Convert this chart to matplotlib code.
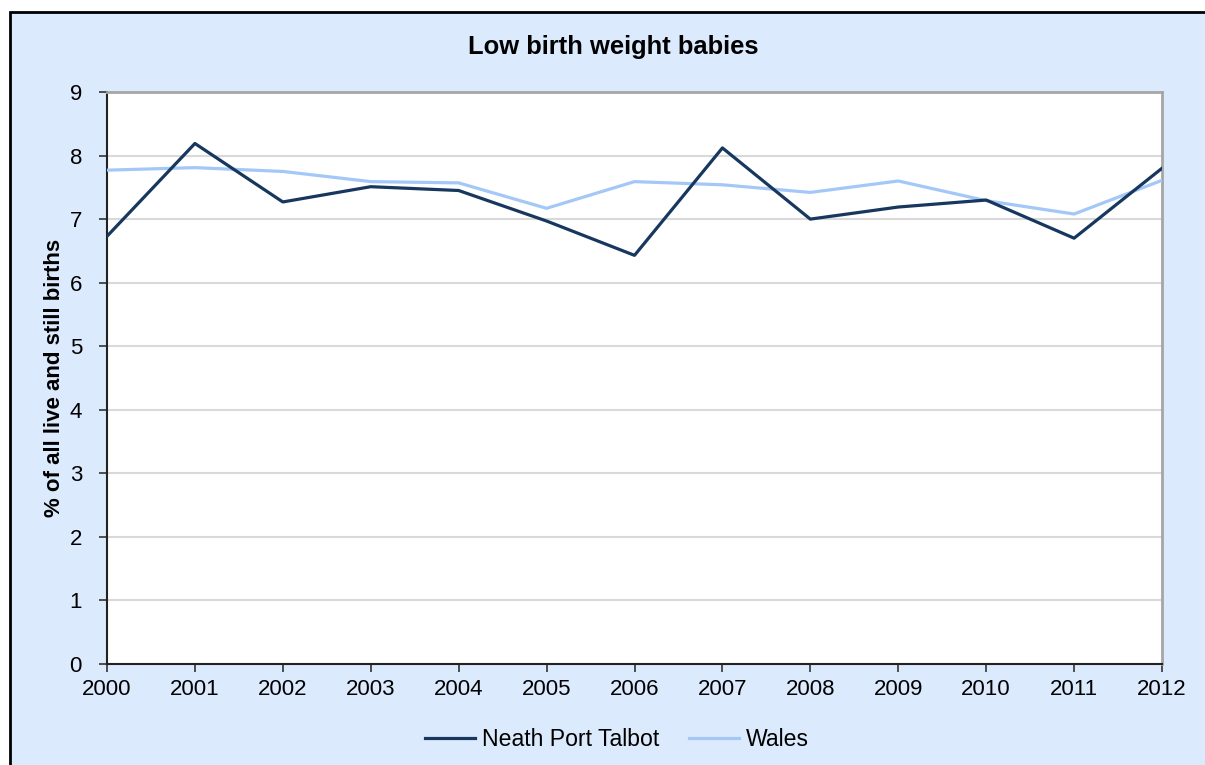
import matplotlib
matplotlib.use("Agg")
import matplotlib.pyplot as plt
from matplotlib.patches import Rectangle

plt.rcParams["font.family"] = ["Liberation Sans", "DejaVu Sans"]

# ── 数据 ──
years = list(range(2000, 2013))
npt = [6.73, 8.19, 7.27, 7.51, 7.45, 6.97, 6.43, 8.12, 7.00, 7.19, 7.30, 6.70, 7.80]
wales = [7.77, 7.81, 7.75, 7.59, 7.57, 7.17, 7.59, 7.54, 7.42, 7.60, 7.29, 7.08, 7.61]
y_ticks = list(range(0, 10))

W, H = 1205, 765
fig = plt.figure(figsize=(W / 100, H / 100), dpi=100)
fig.patch.set_facecolor("white")

# 图表区背景和边框
fig.patches.append(Rectangle((10 / W, -0.01), 1.0, (H - 12) / H + 0.01,
                             transform=fig.transFigure, facecolor="#DCEAFD",
                             edgecolor="black", linewidth=2, zorder=-1))

ax = fig.add_axes([107 / W, (H - 664) / H, (1162 - 107) / W, (664 - 92) / H])
ax.set_facecolor("white")

ax.plot(years, wales, color="#A3C8F7", linewidth=2.3, label="Wales", zorder=3)
ax.plot(years, npt, color="#17375E", linewidth=2.3, label="Neath Port Talbot", zorder=4)

ax.set_xlim(2000, 2012)
ax.set_ylim(0, 9)
ax.set_xticks(years)
ax.set_yticks(y_ticks)
ax.tick_params(axis="both", labelsize=16, length=6, width=1.2, color="#333333")
ax.tick_params(axis="x", pad=5)
ax.tick_params(axis="y", pad=12)
ax.yaxis.grid(True, color="#D9D9D9", linewidth=1.5)
ax.set_axisbelow(True)

for s in ("top", "right"):
    ax.spines[s].set_color("#A6A6A6")
    ax.spines[s].set_linewidth(2)
for s in ("left", "bottom"):
    ax.spines[s].set_color("#222222")
    ax.spines[s].set_linewidth(1.5)

ax.set_ylabel("% of all live and still births", fontsize=16, fontweight="bold", labelpad=3)
fig.text(613 / W, 1 - 47 / H, "Low birth weight babies", ha="center", va="center",
         fontsize=18.4, fontweight="bold")

handles, labels = ax.get_legend_handles_labels()
fig.legend(handles[::-1], labels[::-1], loc="center", bbox_to_anchor=(617 / W, 1 - 740 / H),
           ncol=2, frameon=False, fontsize=16.6, handlelength=2.15, handletextpad=0.3,
           columnspacing=1.3)

fig.savefig("out.png", dpi=100)
